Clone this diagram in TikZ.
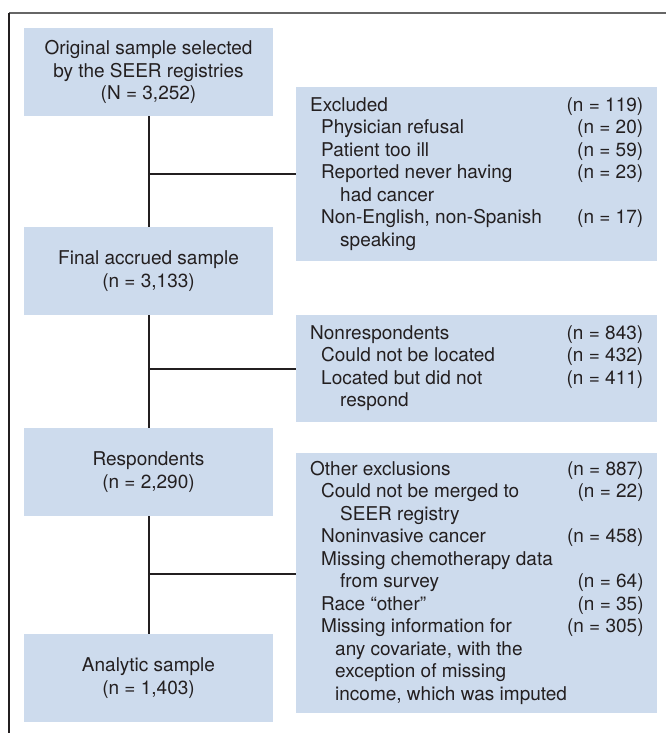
\documentclass[tikz,border=0pt]{standalone}
\usepackage{fontspec}
\setmainfont{TeX Gyre Heros}
\definecolor{boxblue}{RGB}{205,219,237}
\definecolor{ink}{RGB}{35,31,32}
\newcommand{\itm}{\hspace*{11pt}}
\newcommand{\cnt}{\hspace*{30pt}}
\newcommand{\cntb}{\hspace*{25pt}}
\begin{document}
\begin{tikzpicture}[x=1pt,y=-1pt]
\tikzstyle{every node}=[text=ink,font=\fontsize{19}{22.5}\selectfont,inner sep=0pt]
\tikzstyle{lbox}=[fill=boxblue,minimum width=249pt,minimum height=88pt,align=center]
\tikzstyle{rbox}=[fill=boxblue,minimum width=361pt,anchor=north west]
\tikzstyle{link}=[draw=ink,line width=2pt]
\useasboundingbox (0,0) rectangle (666,733);
% frame
\draw[line width=1.6pt,color=black!60] (9,13) -- (666,13);
\draw[line width=1.3pt,color=ink] (9,13) -- (9,733);
% main column
\node[lbox] at (148.5,72) (orig) {Original sample selected\\by the SEER registries\\(N = 3,252)};
\node[lbox] at (148.5,271) (final) {Final accrued sample\\(n = 3,133)};
\node[lbox] at (148.5,472) (resp) {Respondents\\(n = 2,290)};
\node[lbox] at (148.5,678) (anal) {Analytic sample\\(n = 1,403)};
% side boxes
\node[rbox,minimum height=174pt] at (296,87) (excl) {%
\begin{tabular*}{333pt}{@{}l@{\extracolsep{\fill}}r@{}}
Excluded & (n = 119)\\
\itm Physician refusal & (n = 20)\\
\itm Patient too ill & (n = 59)\\
\itm Reported never having & (n = 23)\\
\cnt had cancer & \\
\itm Non-English, non-Spanish & (n = 17)\\
\cnt speaking &
\end{tabular*}};
\node[rbox,minimum height=107pt] at (296,315) (nonr) {%
\begin{tabular*}{333pt}{@{}l@{\extracolsep{\fill}}r@{}}
Nonrespondents & (n = 843)\\
\itm Could not be located & (n = 432)\\
\itm Located but did not & (n = 411)\\
\cnt respond &
\end{tabular*}};
\node[rbox,minimum height=260pt] at (296,453) (other) {%
\begin{tabular*}{333pt}{@{}l@{\extracolsep{\fill}}r@{}}
Other exclusions & (n = 887)\\
\itm Could not be merged to & (n = 22)\\
\cnt SEER registry & \\
\itm Noninvasive cancer & (n = 458)\\
\itm Missing chemotherapy data & \\
\cnt from survey & (n = 64)\\
\itm Race “other” & (n = 35)\\
\itm Missing information for & (n = 305)\\
\cntb any covariate, with the & \\
\cntb exception of missing & \\
\cntb income, which was imputed &
\end{tabular*}};
% connectors
\coordinate (oj) at (148.5,574);
\draw[link] (orig) -- (final)
     (final) -- (resp)
     (resp) -- (anal);
\draw[link] (excl.west -| orig.south) -- (excl.west)
     (nonr.west -| orig.south) -- (nonr.west)
     (oj) -- (oj -| other.west);
\end{tikzpicture}
\end{document}
